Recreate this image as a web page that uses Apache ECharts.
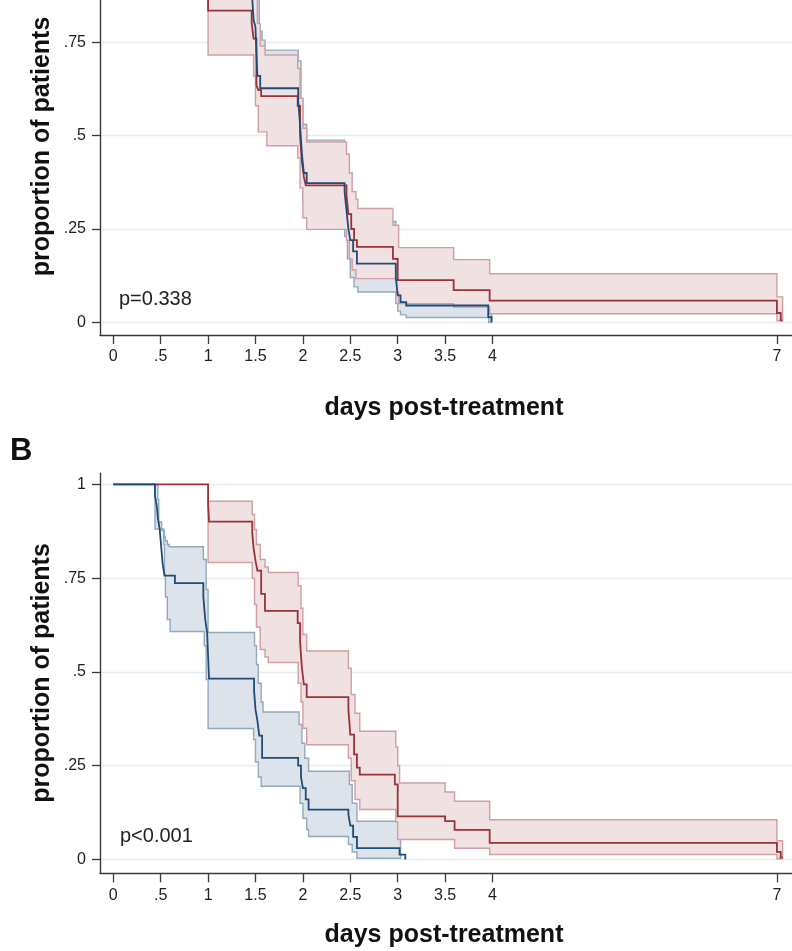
<!DOCTYPE html>
<html><head><meta charset="utf-8">
<script src="https://cdn.jsdelivr.net/npm/echarts@6/dist/echarts.min.js"></script>
<style>html,body{margin:0;padding:0;background:#fff}#c{width:792px;height:951px}</style>
</head><body><div id="c"></div>
<script>
// ---- tick labels / texts ----
const xTickValues = [0, 0.5, 1, 1.5, 2, 2.5, 3, 3.5, 4, 7];
const xTickLabels = ['0', '.5', '1', '1.5', '2', '2.5', '3', '3.5', '4', '7'];
const yTickValues = [0, 0.25, 0.5, 0.75, 1];
const yTickLabels = ['0', '.25', '.5', '.75', '1'];
const xTitle = 'days post-treatment';
const yTitle = 'proportion of patients';
const panelLabelB = 'B';
const pValueA = 'p=0.338';
const pValueB = 'p<0.001';

// ---- Panel A: Kaplan-Meier step points [day, proportion] ----
const kmA_blue = [[0,1],[1.44,0.95],[1.46,0.90],[1.47,0.85],[1.48,0.81],[1.50,0.79],[1.51,0.72],[1.52,0.66],[1.55,0.627],[1.95,0.595],[1.97,0.53],[1.99,0.45],[2.01,0.40],[2.04,0.373],[2.44,0.35],[2.46,0.30],[2.48,0.25],[2.50,0.22],[2.53,0.19],[2.57,0.157],[2.98,0.12],[3.00,0.072],[3.03,0.054],[3.09,0.045],[3.955,0.014],[3.99,0]];
const kmA_red = [[0,1],[1.0,0.835],[1.46,0.80],[1.48,0.76],[1.51,0.635],[1.53,0.622],[1.56,0.606],[1.945,0.58],[1.97,0.50],[1.99,0.43],[2.01,0.39],[2.03,0.367],[2.46,0.34],[2.48,0.29],[2.51,0.25],[2.54,0.22],[2.57,0.202],[2.95,0.17],[3.0,0.113],[3.59,0.086],[3.97,0.058],[7.0,0.025],[7.04,0.005],[7.06,0.005]];
// confidence bands [day, lower, upper]; last row marks band end
const ciA_blue = [[1.44,0.90,1.00],[1.47,0.80,1.00],[1.49,0.70,1.00],[1.50,0.70,0.95],[1.51,0.60,0.95],[1.52,0.60,0.87],[1.54,0.60,0.78],[1.55,0.52,0.78],[1.57,0.52,0.756],[1.60,0.52,0.729],[1.95,0.48,0.70],[1.98,0.38,0.60],[2.00,0.32,0.53],[2.04,0.26,0.488],[2.44,0.23,0.45],[2.47,0.17,0.36],[2.50,0.12,0.31],[2.54,0.095,0.28],[2.58,0.081,0.27],[2.98,0.05,0.22],[3.00,0.03,0.18],[3.03,0.02,0.15],[3.09,0.013,0.13],[3.96,0.0,0.13],[3.99,0.0,0.13]];
const ciA_red = [[1.00,0.716,0.93],[1.48,0.66,0.93],[1.49,0.66,0.88],[1.50,0.58,0.88],[1.52,0.58,0.80],[1.53,0.51,0.80],[1.55,0.51,0.74],[1.60,0.51,0.716],[1.62,0.473,0.716],[1.945,0.44,0.68],[1.97,0.36,0.60],[2.00,0.28,0.52],[2.04,0.249,0.483],[2.46,0.22,0.45],[2.49,0.17,0.40],[2.52,0.14,0.35],[2.56,0.117,0.33],[2.58,0.117,0.305],[2.95,0.117,0.26],[2.99,0.08,0.26],[3.01,0.05,0.20],[3.59,0.041,0.168],[3.97,0.023,0.13],[7.00,0.004,0.068],[7.06,0.004,0.068]];

// ---- Panel B ----
const kmB_blue = [[0,1],[0.44,0.97],[0.46,0.94],[0.47,0.91],[0.49,0.88],[0.50,0.85],[0.51,0.82],[0.52,0.79],[0.54,0.757],[0.65,0.737],[0.95,0.70],[0.97,0.64],[0.99,0.605],[1.01,0.482],[1.485,0.45],[1.50,0.40],[1.52,0.37],[1.54,0.33],[1.57,0.271],[1.95,0.25],[1.98,0.22],[2.00,0.19],[2.03,0.16],[2.06,0.133],[2.48,0.12],[2.50,0.09],[2.53,0.06],[2.57,0.03],[3.02,0.013],[3.08,0]];
const kmB_red = [[0,1],[1.0,0.95],[1.01,0.901],[1.466,0.87],[1.48,0.83],[1.50,0.797],[1.52,0.77],[1.56,0.708],[1.60,0.663],[1.945,0.63],[1.97,0.58],[1.99,0.51],[2.01,0.467],[2.04,0.433],[2.48,0.40],[2.50,0.333],[2.54,0.28],[2.57,0.245],[2.60,0.226],[2.97,0.20],[3.00,0.115],[3.50,0.102],[3.60,0.079],[3.97,0.044],[7.0,0.02],[7.04,0.005],[7.06,0.005]];
const ciB_blue = [[0.44,0.881,1.00],[0.47,0.881,0.96],[0.48,0.881,0.90],[0.51,0.881,0.877],[0.53,0.84,0.877],[0.54,0.76,0.86],[0.55,0.70,0.85],[0.57,0.64,0.84],[0.59,0.64,0.834],[0.60,0.608,0.834],[0.95,0.608,0.80],[0.96,0.57,0.80],[0.98,0.48,0.72],[1.00,0.349,0.605],[1.48,0.32,0.605],[1.49,0.32,0.57],[1.50,0.26,0.57],[1.51,0.26,0.52],[1.53,0.22,0.47],[1.56,0.195,0.42],[1.58,0.195,0.393],[1.96,0.195,0.36],[1.97,0.15,0.36],[1.99,0.15,0.31],[2.00,0.11,0.31],[2.02,0.11,0.27],[2.04,0.08,0.27],[2.06,0.061,0.235],[2.48,0.04,0.235],[2.49,0.04,0.20],[2.52,0.02,0.15],[2.57,0.003,0.102],[3.03,0.003,0.102]];
const ciB_red = [[1.00,0.792,0.955],[1.466,0.75,0.92],[1.49,0.68,0.88],[1.51,0.62,0.84],[1.55,0.56,0.80],[1.60,0.54,0.78],[1.635,0.525,0.765],[1.95,0.47,0.73],[1.98,0.42,0.67],[2.00,0.35,0.60],[2.04,0.306,0.556],[2.48,0.27,0.51],[2.51,0.21,0.44],[2.55,0.16,0.39],[2.60,0.133,0.342],[2.98,0.10,0.30],[3.00,0.053,0.25],[3.02,0.053,0.204],[3.50,0.053,0.18],[3.60,0.030,0.155],[3.97,0.013,0.106],[7.00,0.002,0.05],[7.06,0.002,0.05]];

// ---- styling ----
const NAVY = '#1f4c76', MAROON = '#9a3238';
const NAVY_FILL = '#dde3ea', NAVY_EDGE = '#93a9bd';
const MAROON_FILL = '#f0e1e3', MAROON_EDGE = '#cf9fa3';
const FONT = '"Liberation Sans", Arial, Helvetica, sans-serif';

const chart = echarts.init(document.getElementById('c'), null, {renderer: 'canvas'});

function xAxisDef(gi) {
  return {
    type: 'value', gridIndex: gi, min: -0.14, max: 7.159,
    axisLine: {show: true, onZero: false, lineStyle: {color: '#3a3a3a', width: 1.4}},
    axisTick: {show: true, length: 9, customValues: xTickValues, lineStyle: {color: '#3a3a3a', width: 1.3}},
    axisLabel: {customValues: xTickValues, margin: 14, fontFamily: FONT, fontSize: 16, color: '#1e1e1e',
      formatter: v => xTickLabels[xTickValues.indexOf(v)]},
    splitLine: {show: false}
  };
}
function yAxisDef(gi, min, max) {
  const vals = yTickValues.filter(v => v >= min && v <= max);
  return {
    type: 'value', gridIndex: gi, min: min, max: max,
    axisLine: {show: true, onZero: false, lineStyle: {color: '#3a3a3a', width: 1.4}},
    axisTick: {show: true, length: 8, customValues: vals, lineStyle: {color: '#3a3a3a', width: 1.3}},
    axisLabel: {customValues: vals, margin: 14, fontFamily: FONT, fontSize: 16, color: '#1e1e1e',
      formatter: v => yTickLabels[yTickValues.indexOf(v)]},
    splitLine: {show: true, lineStyle: {color: '#e5edf0', width: 1.4}}
  };
}
function bandSeries(band, gi, fill, stroke, z) {
  return {
    type: 'custom', xAxisIndex: gi, yAxisIndex: gi, z: z, silent: true, clip: true,
    data: band, encode: {x: 0, y: [1, 2]},
    renderItem: function (params, api) {
      if (params.dataIndex !== 0) return null;
      const pts = [];
      for (let i = 0; i < band.length - 1; i++) {
        pts.push(api.coord([band[i][0], band[i][2]]));
        pts.push(api.coord([band[i + 1][0], band[i][2]]));
      }
      for (let i = band.length - 2; i >= 0; i--) {
        pts.push(api.coord([band[i + 1][0], band[i][1]]));
        pts.push(api.coord([band[i][0], band[i][1]]));
      }
      return {type: 'polygon', shape: {points: pts}, style: {fill: fill, stroke: stroke, lineWidth: 1.4, lineJoin: 'miter'}};
    }
  };
}
function lineSeries(data, gi, color, z) {
  return {
    type: 'line', xAxisIndex: gi, yAxisIndex: gi, z: z, data: data, step: 'end',
    showSymbol: false, symbol: 'none', silent: true, clip: true,
    lineStyle: {color: color, width: 1.8, join: 'miter'}
  };
}

const option = {
  animation: false,
  backgroundColor: '#ffffff',
  grid: [
    {left: 100, width: 692, top: 0, height: 335, outerBoundsMode: 'none', containLabel: false},
    {left: 100, width: 692, top: 473.2, height: 400.1, outerBoundsMode: 'none', containLabel: false}
  ],
  xAxis: [xAxisDef(0), xAxisDef(1)],
  yAxis: [yAxisDef(0, -0.034, 0.8634), yAxisDef(1, -0.037, 1.030)],
  series: [
    bandSeries(ciA_blue, 0, NAVY_FILL, NAVY_EDGE, 1),
    bandSeries(ciA_red, 0, MAROON_FILL, MAROON_EDGE, 2),
    lineSeries(kmA_red, 0, MAROON, 3),
    lineSeries(kmA_blue, 0, NAVY, 4),
    bandSeries(ciB_blue, 1, NAVY_FILL, NAVY_EDGE, 1),
    bandSeries(ciB_red, 1, MAROON_FILL, MAROON_EDGE, 2),
    lineSeries(kmB_red, 1, MAROON, 3),
    lineSeries(kmB_blue, 1, NAVY, 4)
  ],
  graphic: [
    {type: 'text', x: 42, y: 146.5, rotation: Math.PI / 2, style: {text: yTitle, font: 'bold 25px ' + FONT, fill: '#111', align: 'center', verticalAlign: 'middle'}},
    {type: 'text', x: 42, y: 673, rotation: Math.PI / 2, style: {text: yTitle, font: 'bold 25px ' + FONT, fill: '#111', align: 'center', verticalAlign: 'middle'}},
    {type: 'text', x: 444, y: 408, style: {text: xTitle, font: 'bold 25px ' + FONT, fill: '#111', align: 'center', verticalAlign: 'middle'}},
    {type: 'text', x: 444, y: 935, style: {text: xTitle, font: 'bold 25px ' + FONT, fill: '#111', align: 'center', verticalAlign: 'middle'}},
    {type: 'text', x: 10, y: 451, style: {text: panelLabelB, font: 'bold 31px ' + FONT, fill: '#111', align: 'left', verticalAlign: 'middle'}},
    {type: 'text', x: 119, y: 299, style: {text: pValueA, font: '20px ' + FONT, fill: '#222', align: 'left', verticalAlign: 'middle'}},
    {type: 'text', x: 120, y: 836, style: {text: pValueB, font: '20px ' + FONT, fill: '#222', align: 'left', verticalAlign: 'middle'}}
  ]
};
chart.setOption(option);
</script></body></html>
